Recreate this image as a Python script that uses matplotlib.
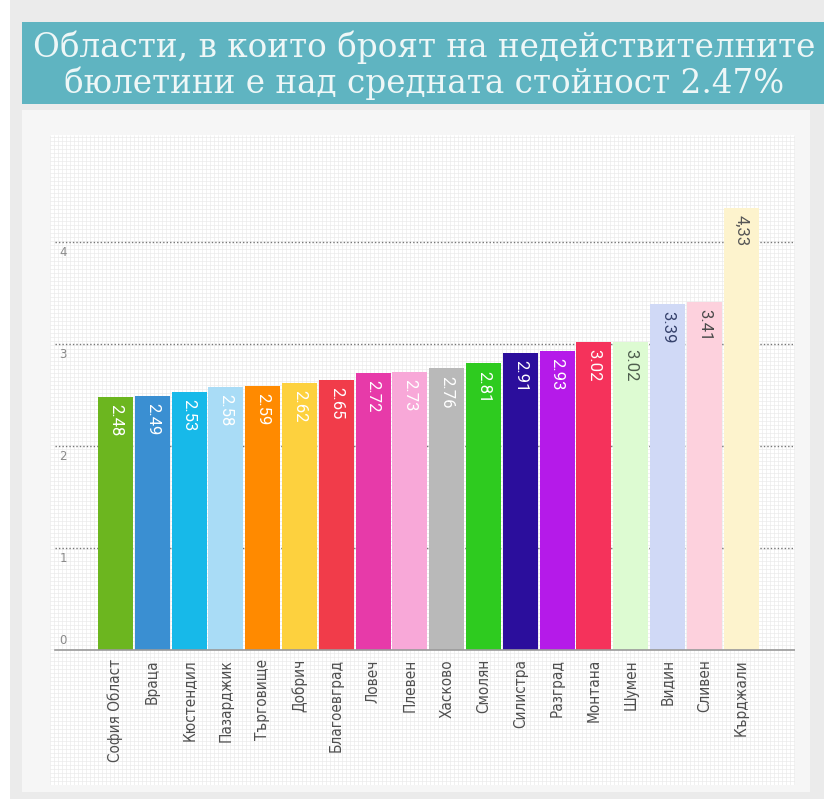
import matplotlib
matplotlib.use("Agg")
import matplotlib.pyplot as plt
from matplotlib.patches import Rectangle
import numpy as np

categories = ["София Област", "Враца", "Кюстендил", "Пазарджик", "Търговище", "Добрич",
              "Благоевград", "Ловеч", "Плевен", "Хасково", "Смолян", "Силистра",
              "Разград", "Монтана", "Шумен", "Видин", "Сливен", "Кърджали"]
values = [2.48, 2.49, 2.53, 2.58, 2.59, 2.62, 2.65, 2.72, 2.73, 2.76, 2.81, 2.91,
          2.93, 3.02, 3.02, 3.39, 3.41, 4.33]
value_labels = ["2.48", "2.49", "2.53", "2.58", "2.59", "2.62", "2.65", "2.72", "2.73",
                "2.76", "2.81", "2.91", "2.93", "3.02", "3.02", "3.39", "3.41", "4,33"]
colors = ["#6cb61f", "#3a8fd2", "#17b9e9", "#a9dcf6", "#ff8a00", "#fdd13e",
          "#f13c4a", "#e73aa9", "#f8a8d8", "#b9b9b9", "#2ecb1f", "#2b0e9c",
          "#b51ae9", "#f5325b", "#ddfbd2", "#d0d9f6", "#fdd1dd", "#fdf3cd"]
label_colors = ["white"] * 14 + ["#4d5d4d", "#35416b", "#4a4a4a", "#555555"]
yticks = [0, 1, 2, 3, 4]
title_lines = ["Области, в които броят на недействителните",
               "бюлетини е над средната стойност 2.47%"]

W, H = 824, 799
fig = plt.figure(figsize=(W / 100, H / 100), dpi=100, facecolor="white")

def px_rect(x0, y0, x1, y1, color, z):
    fig.patches.append(Rectangle((x0 / W, 1 - y1 / H), (x1 - x0) / W, (y1 - y0) / H,
                                 transform=fig.transFigure, facecolor=color,
                                 edgecolor="none", zorder=z))

px_rect(10, 0, 824, 799, "#ebebeb", -3)
px_rect(22, 110, 810, 792, "#f6f6f6", -2)
px_rect(22, 22, 824, 104, "#5fb4c1", -2)

fig.text(424 / W, 1 - 47 / H, title_lines[0], ha="center", va="center",
         family="DejaVu Serif", fontsize=23.5, color="#eef7f7")
fig.text(424 / W, 1 - 83 / H, title_lines[1], ha="center", va="center",
         family="DejaVu Serif", fontsize=23.5, color="#eef7f7")

ax_l, ax_r, ax_t, ax_b = 50, 795, 135, 785
ax = fig.add_axes([ax_l / W, 1 - ax_b / H, (ax_r - ax_l) / W, (ax_b - ax_t) / H])
ax.set_zorder(5)
ax.set_facecolor("white")
x0px, step = 115.5, 36.8
y0px, unit = 650, 102
ax.set_xlim((ax_l - x0px) / step, (ax_r - x0px) / step)
ax.set_ylim(-(ax_b - y0px) / unit, (y0px - ax_t) / unit)
for s in ax.spines.values():
    s.set_visible(False)
ax.set_xticks([])
ax.set_yticks([])

# background fine grid texture
xl, yl = ax.get_xlim(), ax.get_ylim()
ax.vlines(np.arange(xl[0], xl[1], 4.0 / step), yl[0], yl[1], color="#ebebeb", lw=0.5, zorder=0)
ax.hlines(np.arange(yl[0], yl[1], 4.0 / unit), xl[0], xl[1], color="#ebebeb", lw=0.5, zorder=0)

xs = np.arange(len(categories))
for t in yticks[1:]:
    ax.plot([xl[0] + 5 / step, xl[1]], [t, t], color="#777777", lw=1.0,
            linestyle=(0, (1, 1.5)), zorder=1)
ax.plot([xl[0] + 5 / step, xl[1]], [0, 0], color="#9a9a9a", lw=1.2, zorder=3)

ax.bar(xs, values, width=0.95, color=colors, zorder=2)

for t in yticks:
    dy = 0.09 if t == 0 else -0.1
    ax.text((63 - x0px) / step, t + dy, str(t), ha="center", va="center",
            fontsize=8.5, color="#8a8a8a", family="DejaVu Sans")

for x, v, lab, c in zip(xs, values, value_labels, label_colors):
    ax.text(x, v - 0.07, lab, rotation=270, ha="center", va="top",
            fontsize=12, color=c, family="Roboto")

for x, cat in zip(xs, categories):
    ax.text(x, -0.09, cat, rotation=90, ha="center", va="top", fontsize=11,
            color="#4f4f4f", family="DejaVu Sans", fontstretch="condensed")

fig.savefig("out.png", dpi=100, facecolor=fig.get_facecolor())
